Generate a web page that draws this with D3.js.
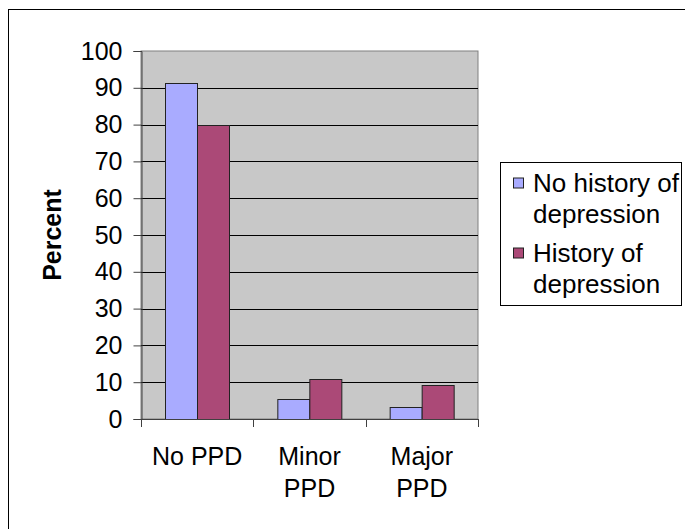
<!DOCTYPE html>
<html>
<head>
<meta charset="utf-8">
<script src="https://cdn.jsdelivr.net/npm/d3@7"></script>
<style>
  body { margin: 0; background: #fff; }
  svg text { font-family: "Liberation Sans", Arial, sans-serif; fill: #000; }
</style>
</head>
<body>
<div id="chart"></div>
<script>
// data
var categories = ["No PPD", "Minor PPD", "Major PPD"];
var categoryLines = [["No PPD"], ["Minor", "PPD"], ["Major", "PPD"]];
var seriesNames = ["No history of depression", "History of depression"];
var legendLines = [["No history of", "depression"], ["History of", "depression"]];
var noHistoryPct = [91.4, 5.4, 3.2];
var withHistoryPct = [80.0, 10.8, 9.2];
var yTicks = [0, 10, 20, 30, 40, 50, 60, 70, 80, 90, 100];

var colors = ["#a9abff", "#ab4977"];

var W = 685, H = 529;
var margin = { top: 51, left: 141, right: 207, bottom: 110 };
var width = W - margin.left - margin.right,
    height = H - margin.top - margin.bottom;

var svg = d3.select("#chart").append("svg")
    .attr("width", W)
    .attr("height", H);

// outer chart border (runs off the right and bottom)
svg.append("rect")
    .attr("x", 8.5).attr("y", 9.5)
    .attr("width", W).attr("height", H)
    .attr("fill", "none")
    .attr("stroke", "#000");

var graph = svg.append("g")
    .attr("transform", "translate(" + margin.left + "," + margin.top + ")");

var x = d3.scaleBand().domain(categories).range([0, width]).padding(0);
var x1 = d3.scaleBand().domain(seriesNames).range([0, x.bandwidth()])
    .paddingInner(0).paddingOuter(0.755);
var y = d3.scaleLinear().domain([0, 100]).range([height, 0]);

// plot area
graph.append("rect")
    .attr("width", width).attr("height", height)
    .attr("fill", "#c8c8c8")
    .attr("stroke", "#808080");

// gridlines
graph.selectAll(".grid")
    .data(yTicks.filter(function (d) { return d > 0 && d < 100; }))
    .enter().append("line")
    .attr("x1", 0).attr("x2", width)
    .attr("y1", function (d) { return Math.round(y(d)) + 0.5; })
    .attr("y2", function (d) { return Math.round(y(d)) + 0.5; })
    .attr("stroke", "#000");

// bars
var rows = categories.map(function (c, i) {
    return { cat: c, values: [noHistoryPct[i], withHistoryPct[i]] };
});
var groups = graph.selectAll(".grp").data(rows).enter().append("g")
    .attr("transform", function (d) { return "translate(" + x(d.cat) + ",0)"; });
groups.selectAll("rect")
    .data(function (d) { return d.values.map(function (v, j) { return { s: seriesNames[j], v: v, j: j }; }); })
    .enter().append("rect")
    .attr("x", function (d) { return Math.round(x1(d.s)) + 0.5; })
    .attr("y", function (d) { return Math.round(y(d.v)) + 0.5; })
    .attr("width", Math.round(x1.bandwidth()))
    .attr("height", function (d) { return Math.round(height - y(d.v)); })
    .attr("fill", function (d) { return colors[d.j]; })
    .attr("stroke", "#222");

// y axis
var yAxis = graph.append("g")
    .attr("transform", "translate(0.5,0)")
    .call(d3.axisLeft(y).tickValues(yTicks).tickSize(8).tickPadding(11));
yAxis.select(".domain").attr("stroke", "#404040");
yAxis.selectAll(".tick line").attr("stroke", "#404040");
yAxis.selectAll("text")
    .style("font-size", "25px")
    .attr("fill", "#000");

// x axis line and boundary ticks
graph.append("line")
    .attr("x1", 0).attr("x2", width)
    .attr("y1", height + 0.5).attr("y2", height + 0.5)
    .attr("stroke", "#404040");
var bounds = categories.map(function (c) { return x(c); }).concat([width]);
graph.selectAll(".xtick").data(bounds).enter().append("line")
    .attr("x1", function (d) { return Math.round(d) + 0.5; })
    .attr("x2", function (d) { return Math.round(d) + 0.5; })
    .attr("y1", height).attr("y2", height + 8)
    .attr("stroke", "#404040");

// category labels
var labels = graph.selectAll(".xlab").data(categories).enter().append("text")
    .attr("text-anchor", "middle")
    .style("font-size", "25px")
    .attr("transform", function (d) { return "translate(" + (x(d) + x.bandwidth() / 2) + "," + (height + 46) + ")"; });
labels.selectAll("tspan")
    .data(function (d, i) { return categoryLines[i]; })
    .enter().append("tspan")
    .attr("x", 0)
    .attr("y", function (d, i) { return i * 31.5; })
    .text(function (d) { return d; });

// y title
graph.append("text")
    .attr("transform", "translate(" + (61 - margin.left) + "," + (height / 2) + ")rotate(-90)")
    .attr("text-anchor", "middle")
    .style("font-size", "25px")
    .style("font-weight", "bold")
    .text("Percent");

// legend
var legend = svg.append("g");
legend.append("rect")
    .attr("x", 500.5).attr("y", 162.5)
    .attr("width", 181).attr("height", 143)
    .attr("fill", "#fff")
    .attr("stroke", "#000");
var items = legend.selectAll(".item").data(seriesNames).enter().append("g")
    .attr("transform", function (d, i) { return "translate(513," + (191.5 + i * 70) + ")"; });
items.append("rect")
    .attr("x", 0.5).attr("y", -13.5)
    .attr("width", 10).attr("height", 10)
    .attr("fill", function (d, i) { return colors[i]; })
    .attr("stroke", "#222");
items.append("text")
    .style("font-size", "26px")
    .selectAll("tspan")
    .data(function (d, i) { return legendLines[i]; })
    .enter().append("tspan")
    .attr("x", 20)
    .attr("y", function (d, i) { return i * 31.5; })
    .text(function (d) { return d; });
</script>
</body>
</html>
